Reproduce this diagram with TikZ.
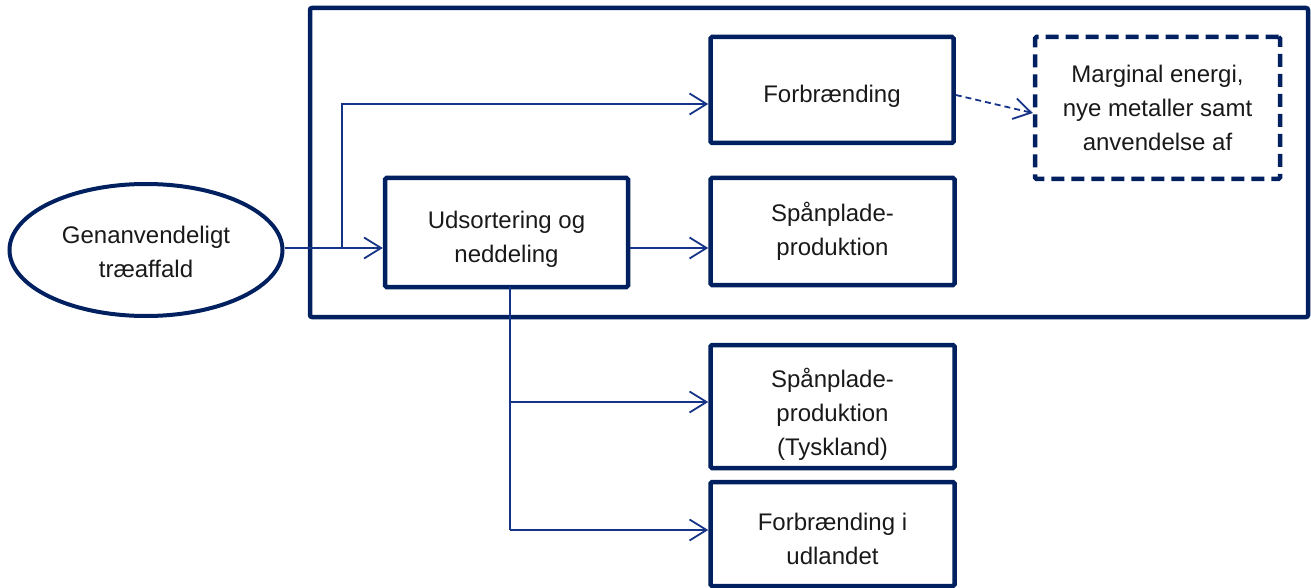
\documentclass[tikz,border=0pt]{standalone}
\usepackage{fontspec}
\setmainfont{Liberation Sans}
\usetikzlibrary{shapes.geometric,arrows.meta}
\definecolor{frame}{RGB}{0,32,96}
\definecolor{link}{RGB}{22,52,135}
\tikzset{
  box/.style={draw=frame, line width=4.5pt, rounded corners=1.5pt, rectangle,
    inner sep=0pt},
  dashbox/.style={box, dash pattern=on 13pt off 7pt},
  blob/.style={draw=frame, line width=4pt, ellipse, inner sep=0pt},
  txt/.style={inner sep=0pt, align=center, text=black!90,
    font=\fontsize{24}{34}\selectfont},
  conn/.style={draw=link, line width=1.8pt,
    -{Straight Barb[length=17pt,width=21pt,line width=1.8pt]}},
  plain/.style={draw=link, line width=1.8pt},
  dashconn/.style={conn, dash pattern=on 6pt off 4pt}
}
\begin{document}
\begin{tikzpicture}[x=1pt,y=-1pt]
\useasboundingbox (0,0) rectangle (1311,588);

% system boundary
\node[box, rounded corners=2pt, minimum width=998pt, minimum height=309pt] (sys) at (809,162.5) {};

% process shapes
\node[blob, minimum width=273pt, minimum height=132pt] (src) at (146,250) {};
\node[box, minimum width=243pt, minimum height=109pt] (sort) at (506.5,232.5) {};
\node[box, minimum width=243pt, minimum height=106pt] (burn) at (832,90) {};
\node[box, minimum width=244pt, minimum height=107pt] (chip) at (832.5,231.5) {};
\node[dashbox, minimum width=245pt, minimum height=142pt] (marg) at (1157.5,108) {};
\node[box, minimum width=244pt, minimum height=123pt] (chipde) at (832.5,406.5) {};
\node[box, minimum width=244pt, minimum height=104pt] (abroad) at (832.5,534) {};

% labels
\node[txt, yshift=-2pt] (src-t) at (src.center) {Genanvendeligt\\træaffald};
\node[txt, yshift=-7pt] (sort-t) at (sort.center) {Udsortering og\\neddeling};
\node[txt, yshift=-6pt] (burn-t) at (burn.center) {Forbrænding};
\node[txt] (chip-t) at (chip.center) {Spånplade-\\produktion};
\node[txt] (marg-t) at (marg.center) {Marginal energi,\\nye metaller samt\\anvendelse af};
\node[txt, yshift=-8pt] (chipde-t) at (chipde.center) {Spånplade-\\produktion\\(Tyskland)};
\node[txt, yshift=-5pt] (abroad-t) at (abroad.center) {Forbrænding i\\udlandet};

% junctions
\coordinate (j1) at (342,248);
\coordinate (j2) at (510,287);

% flows
\draw[conn] (src.east |- j1) -- (sort.west |- j1);
\draw[conn] (j1) |- (burn.west |- 0,104);
\draw[conn] (sort.east |- j1) -- (chip.west |- j1);
\draw[plain] (j2) -- (j2 |- 0,530);
\draw[conn] (j2 |- 0,402) -- (chipde.west |- 0,402);
\draw[conn] (j2 |- 0,530) -- (abroad.west |- 0,530);
\draw[dashconn] ([yshift=-5pt]burn.east) -- ([yshift=-5pt]marg.west);
\end{tikzpicture}
\end{document}
